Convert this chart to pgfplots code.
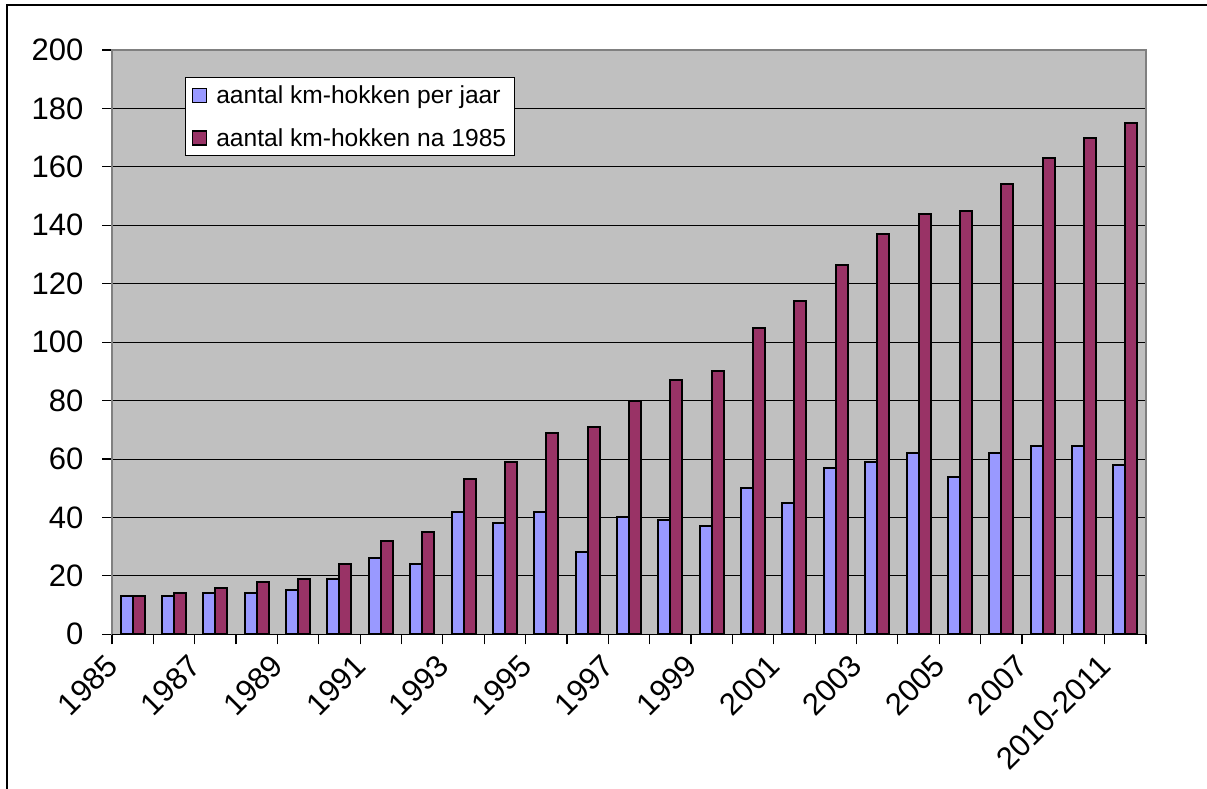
\documentclass[border=0pt]{standalone}
\usepackage{fontspec}
\setmainfont{Liberation Sans}
\usepackage{pgfplots}
\pgfplotsset{compat=1.18}
\usepackage{pgfplotstable}
\definecolor{barblue}{HTML}{9999FF}
\definecolor{barpurple}{HTML}{993366}
\definecolor{plotgray}{HTML}{C0C0C0}
\pgfplotstableread{
idx blue purple
0 13 13
1 13 14
2 14 16
3 14 18
4 15 19
5 19 24
6 26 32
7 24 35
8 42 53
9 38 59
10 42 69
11 28 71
12 40 80
13 39 87
14 37 90
15 50 105
16 45 114
17 57 126.5
18 59 137
19 62 144
20 54 145
21 62 154
22 64.5 163
23 64.5 170
24 58 175
}\datatable
\begin{document}
\begin{tikzpicture}
\useasboundingbox (0pt,0pt) rectangle (1207pt,789pt);
\draw[line width=2.5pt] (7pt,-5pt) -- (7pt,784pt) -- (1212pt,784pt);
\begin{axis}[
  at={(112pt,154.7pt)}, anchor=south west,
  scale only axis, width=1034pt, height=584.3pt,
  xmin=-0.5, xmax=24.5, ymin=0, ymax=200,
  ytick={0,20,40,60,80,100,120,140,160,180,200},
  xtick={-0.5,0.5,1.5,2.5,3.5,4.5,5.5,6.5,7.5,8.5,9.5,10.5,11.5,12.5,13.5,14.5,15.5,16.5,17.5,18.5,19.5,20.5,21.5,22.5,23.5,24.5},
  xticklabels={},
  extra x ticks={0,2,4,6,8,10,12,14,16,18,20,22,24},
  extra x tick labels={1985,1987,1989,1991,1993,1995,1997,1999,2001,2003,2005,2007,2010-2011},
  extra x tick style={major tick length=0pt, tick label style={xshift=-18pt, yshift=-24pt, rotate=45, anchor=east}},
  xtick pos=bottom, ytick pos=left,
  tick align=outside,
  major tick length=10pt,
  tick style={black, line width=1.2pt},
  yticklabel style={xshift=-15pt},
  ymajorgrids, grid style={black, line width=1pt},
  axis background/.style={fill=plotgray},
  axis line style={draw=gray, line width=1.5pt},
  ybar=0pt, bar width=12pt,
  ticklabel style={font=\fontsize{31}{37}\selectfont},
  /pgf/number format/assume math mode=true,
  legend style={at={(0.0706,0.953)}, anchor=north west, draw=black, line width=1pt,
    font=\fontsize{24.6}{30}\selectfont, row sep=19pt, inner xsep=6pt, inner ysep=6pt,
    cells={anchor=west}},
  legend image code/.code={\draw[#1, line width=1.5pt] (4pt,-7pt) rectangle (18pt,7pt); \path (25pt,0pt);},
]
\addplot[fill=barblue, draw=black, line width=2pt] table[x=idx,y=blue]{\datatable};
\addplot[fill=barpurple, draw=black, line width=2pt] table[x=idx,y=purple]{\datatable};
\legend{aantal km-hokken per jaar, aantal km-hokken na 1985}
\draw[black, line width=1.5pt] (axis cs:-0.5,0) -- (axis cs:24.5,0);
\end{axis}
\end{tikzpicture}
\end{document}
